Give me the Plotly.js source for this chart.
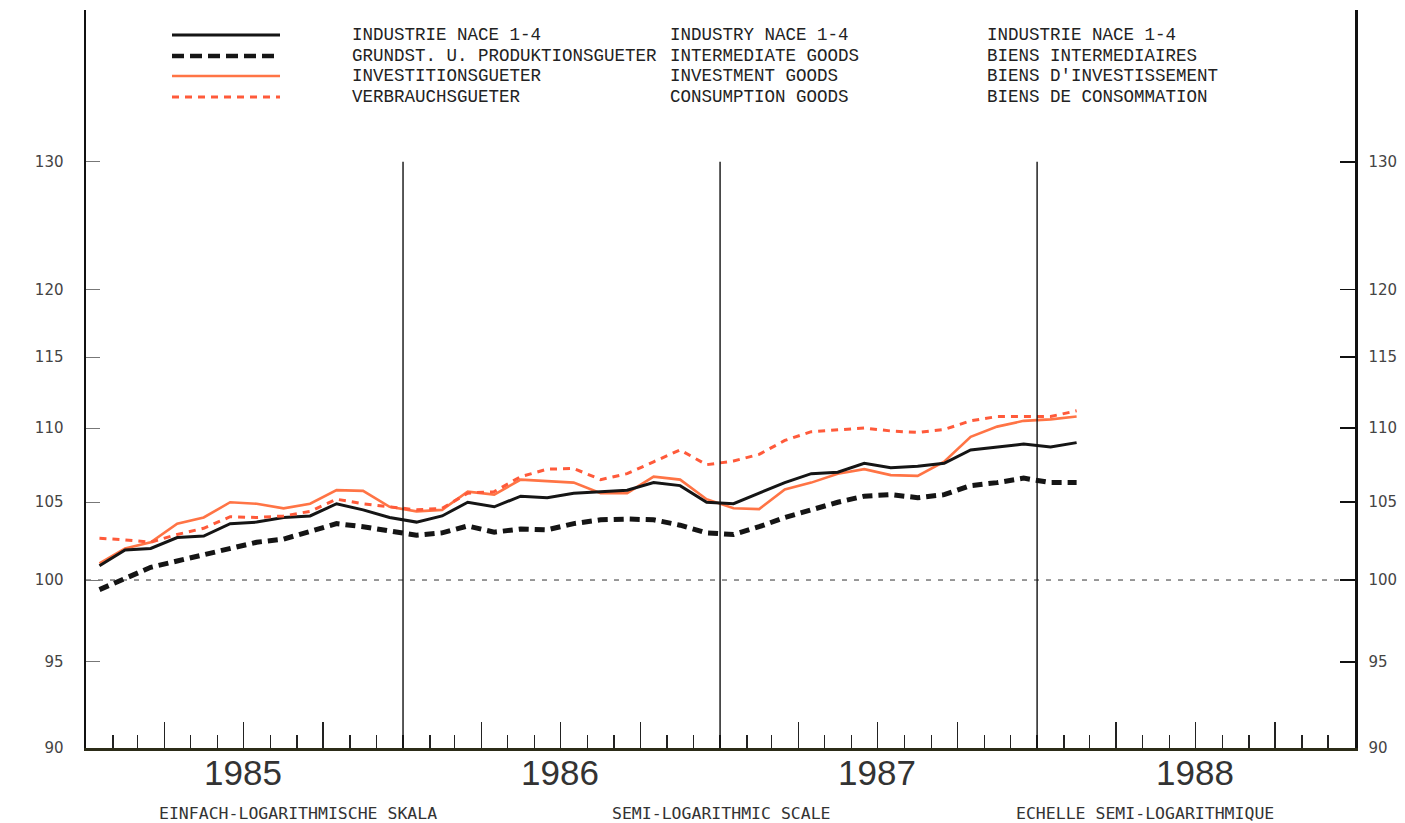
<!DOCTYPE html>
<html>
<head>
<meta charset="utf-8">
<script src="https://cdn.plot.ly/plotly-3.0.1.min.js"></script>
<style>
	html, body { margin: 0; padding: 0; background: #fff; }
	#plot { width: 1405px; height: 823px; }
</style>
</head>
<body>
<div id="plot"></div>
<script>
// monthly index values, 1980 = 100, Jan 1985 .. Feb 1988
var months = [
	'1985-01','1985-02','1985-03','1985-04','1985-05','1985-06','1985-07','1985-08','1985-09','1985-10','1985-11','1985-12',
	'1986-01','1986-02','1986-03','1986-04','1986-05','1986-06','1986-07','1986-08','1986-09','1986-10','1986-11','1986-12',
	'1987-01','1987-02','1987-03','1987-04','1987-05','1987-06','1987-07','1987-08','1987-09','1987-10','1987-11','1987-12',
	'1988-01','1988-02'
];

var industry = [
	100.9, 101.9, 102.0, 102.7, 102.8, 103.6, 103.7, 104.0, 104.1, 104.9, 104.5, 104.0,
	103.7, 104.1, 105.0, 104.7, 105.4, 105.3, 105.6, 105.7, 105.8, 106.3, 106.1, 105.0,
	104.9, 105.6, 106.3, 106.9, 107.0, 107.6, 107.3, 107.4, 107.6, 108.5, 108.7, 108.9,
	108.7, 109.0
];

var intermediate = [
	99.4, 100.1, 100.8, 101.2, 101.6, 102.0, 102.4, 102.6, 103.1, 103.6, 103.4, 103.1,
	102.85, 103.0, 103.45, 103.05, 103.25, 103.2, 103.6, 103.85, 103.9, 103.85, 103.5, 103.0,
	102.9, 103.4, 104.0, 104.5, 105.0, 105.4, 105.5, 105.3, 105.5, 106.1, 106.3, 106.6,
	106.3, 106.3
];

var investment = [
	101.05, 102.0, 102.4, 103.6, 104.0, 105.0, 104.9, 104.6, 104.9, 105.8, 105.75, 104.7,
	104.4, 104.5, 105.7, 105.5, 106.5, 106.4, 106.3, 105.6, 105.6, 106.7, 106.5, 105.2,
	104.6, 104.55, 105.85, 106.3, 106.9, 107.2, 106.8, 106.75, 107.7, 109.4, 110.1, 110.5,
	110.6, 110.8
];

var consumption = [
	102.65, 102.55, 102.4, 102.9, 103.3, 104.05, 104.0, 104.1, 104.4, 105.2, 104.9, 104.7,
	104.5, 104.6, 105.6, 105.7, 106.7, 107.2, 107.25, 106.5, 106.9, 107.7, 108.5, 107.5,
	107.75, 108.2, 109.15, 109.75, 109.9, 110.0, 109.8, 109.7, 109.9, 110.5, 110.8, 110.8,
	110.8, 111.2
];

var legendDE = ['INDUSTRIE NACE 1-4', 'GRUNDST. U. PRODUKTIONSGUETER', 'INVESTITIONSGUETER', 'VERBRAUCHSGUETER'];
var legendEN = ['INDUSTRY NACE 1-4', 'INTERMEDIATE GOODS', 'INVESTMENT GOODS', 'CONSUMPTION GOODS'];
var legendFR = ['INDUSTRIE NACE 1-4', 'BIENS INTERMEDIAIRES', "BIENS D'INVESTISSEMENT", 'BIENS DE CONSOMMATION'];

var yTicks = [90, 95, 100, 105, 110, 115, 120, 130];
var yearMids = ['1985-07-01', '1986-07-01', '1987-07-01', '1988-07-01'];
var yearLabels = ['1985', '1986', '1987', '1988'];
var quarterTicks = [
	'1985-04-01','1985-07-01','1985-10-01','1986-04-01','1986-07-01','1986-10-01',
	'1987-04-01','1987-07-01','1987-10-01','1988-04-01','1988-07-01','1988-10-01'
];
var yearLines = ['1986-01-01', '1987-01-01', '1988-01-01'];
var footer = ['EINFACH-LOGARITHMISCHE SKALA', 'SEMI-LOGARITHMIC SCALE', 'ECHELLE SEMI-LOGARITHMIQUE'];

// page geometry
var W = 1405, H = 823;
var M = {l: 86, r: 50, t: 10, b: 75};
var PX_PER_DECADE = 3671;

function px(x){ return (x - M.l) / (W - M.l - M.r); }
function py(y){ return (H - M.b - y) / (H - M.t - M.b); }

var yLo = Math.log10(90);
var yHi = yLo + (H - M.t - M.b) / PX_PER_DECADE;

var BLACK = '#151515';
var ORANGE = '#ff7445';
var ORANGE_DOT = '#ff5a3a';

var styles = [
	{color: BLACK, width: 3, dash: 'solid'},
	{color: BLACK, width: 5, dash: '10px,6px'},
	{color: ORANGE, width: 2.6, dash: 'solid'},
	{color: ORANGE_DOT, width: 3, dash: '7px,6px'}
];
var series = [industry, intermediate, investment, consumption];

var data = series.map((vals, i) => {
	return {
		x: months,
		y: vals,
		xperiod: 'M1',
		xperiodalignment: 'middle',
		type: 'scatter',
		mode: 'lines',
		name: legendEN[i],
		line: styles[i],
		yaxis: i === 3 ? 'y2' : 'y',
		hoverinfo: 'x+y'
	};
});
// draw black lines on top of the orange ones
data = [data[2], data[3], data[1], data[0]];

var shapes = [];
yearLines.forEach(d => {
	shapes.push({
		type: 'line', xref: 'x', yref: 'y',
		x0: d, x1: d, y0: 90, y1: 130,
		line: {color: '#111', width: 1.4}
	});
});
shapes.push({
	type: 'line', xref: 'paper', yref: 'y',
	x0: 0, x1: 1, y0: 100, y1: 100,
	line: {color: '#333', width: 1, dash: '5px,7px'},
	layer: 'below'
});
// legend line samples
var legendRows = [35, 56, 76, 97];
legendRows.forEach((ry, i) => {
	shapes.push({
		type: 'line', xref: 'paper', yref: 'paper',
		x0: px(172), x1: px(280), y0: py(ry), y1: py(ry),
		line: {color: styles[i].color, width: styles[i].width - (i === 1 ? 0.5 : 0), dash: i === 1 ? '12px,6px' : styles[i].dash}
	});
});

var annotations = [];
var cols = [350, 668, 985];
[legendDE, legendEN, legendFR].forEach((col, c) => {
	col.forEach((txt, i) => {
		annotations.push({
			xref: 'paper', yref: 'paper',
			x: px(cols[c]), y: py(legendRows[i]),
			xanchor: 'left', yanchor: 'middle',
			text: txt, showarrow: false,
			font: {family: 'Liberation Mono, monospace', size: 17.5, color: '#222'}
		});
	});
});
yearLabels.forEach((txt, i) => {
	annotations.push({
		xref: 'x', yref: 'paper',
		x: yearMids[i], y: py(773),
		xanchor: 'center', yanchor: 'middle',
		text: txt, showarrow: false,
		font: {family: 'Liberation Sans, sans-serif', size: 35, color: '#333'}
	});
});
var footX = [298, 722, 1145];
footer.forEach((txt, i) => {
	annotations.push({
		xref: 'paper', yref: 'paper',
		x: px(footX[i]), y: py(813),
		xanchor: 'center', yanchor: 'middle',
		text: txt, showarrow: false,
		font: {family: 'DejaVu Sans Mono, monospace', size: 16.5, color: '#333'}
	});
});

var yAxisBase = {
	type: 'log',
	range: [yLo, yHi],
	tickmode: 'array',
	tickvals: yTicks,
	ticktext: yTicks.map(String),
	ticks: 'inside',
	ticklen: 14,
	showgrid: false,
	zeroline: false,
	showline: true,
	linewidth: 2.5,
	linecolor: '#111',
	tickfont: {family: 'DejaVu Sans, sans-serif', size: 15, color: '#444'},
	fixedrange: true
};

var layout = {
	width: W,
	height: H,
	margin: M,
	paper_bgcolor: '#fff',
	plot_bgcolor: '#fff',
	showlegend: false,
	xaxis: {
		type: 'date',
		range: ['1985-01-01', '1989-01-01'],
		tickmode: 'array',
		tickvals: quarterTicks,
		showticklabels: false,
		ticks: 'inside',
		ticklen: 26,
		tickwidth: 1.3,
		tickcolor: '#222',
		minor: {
			tickmode: 'linear',
			tick0: '1985-01-01',
			dtick: 'M1',
			ticks: 'inside',
			ticklen: 13,
			tickwidth: 1.2,
			tickcolor: '#222',
			showgrid: false
		},
		showgrid: false,
		zeroline: false,
		showline: true,
		linewidth: 2.5,
		linecolor: '#2c2c18',
		fixedrange: true
	},
	yaxis: Object.assign({}, yAxisBase, {
		side: 'left',
		tickcolor: '#777',
		tickwidth: 1,
		ticklabelstandoff: 17
	}),
	yaxis2: Object.assign({}, yAxisBase, {
		side: 'right',
		overlaying: 'y',
		ticklen: 15,
		tickcolor: '#111',
		tickwidth: 1.6,
		ticklabelstandoff: 8
	}),
	shapes: shapes,
	annotations: annotations
};

Plotly.newPlot('plot', data, layout, {displayModeBar: false, staticPlot: true});
</script>
</body>
</html>
